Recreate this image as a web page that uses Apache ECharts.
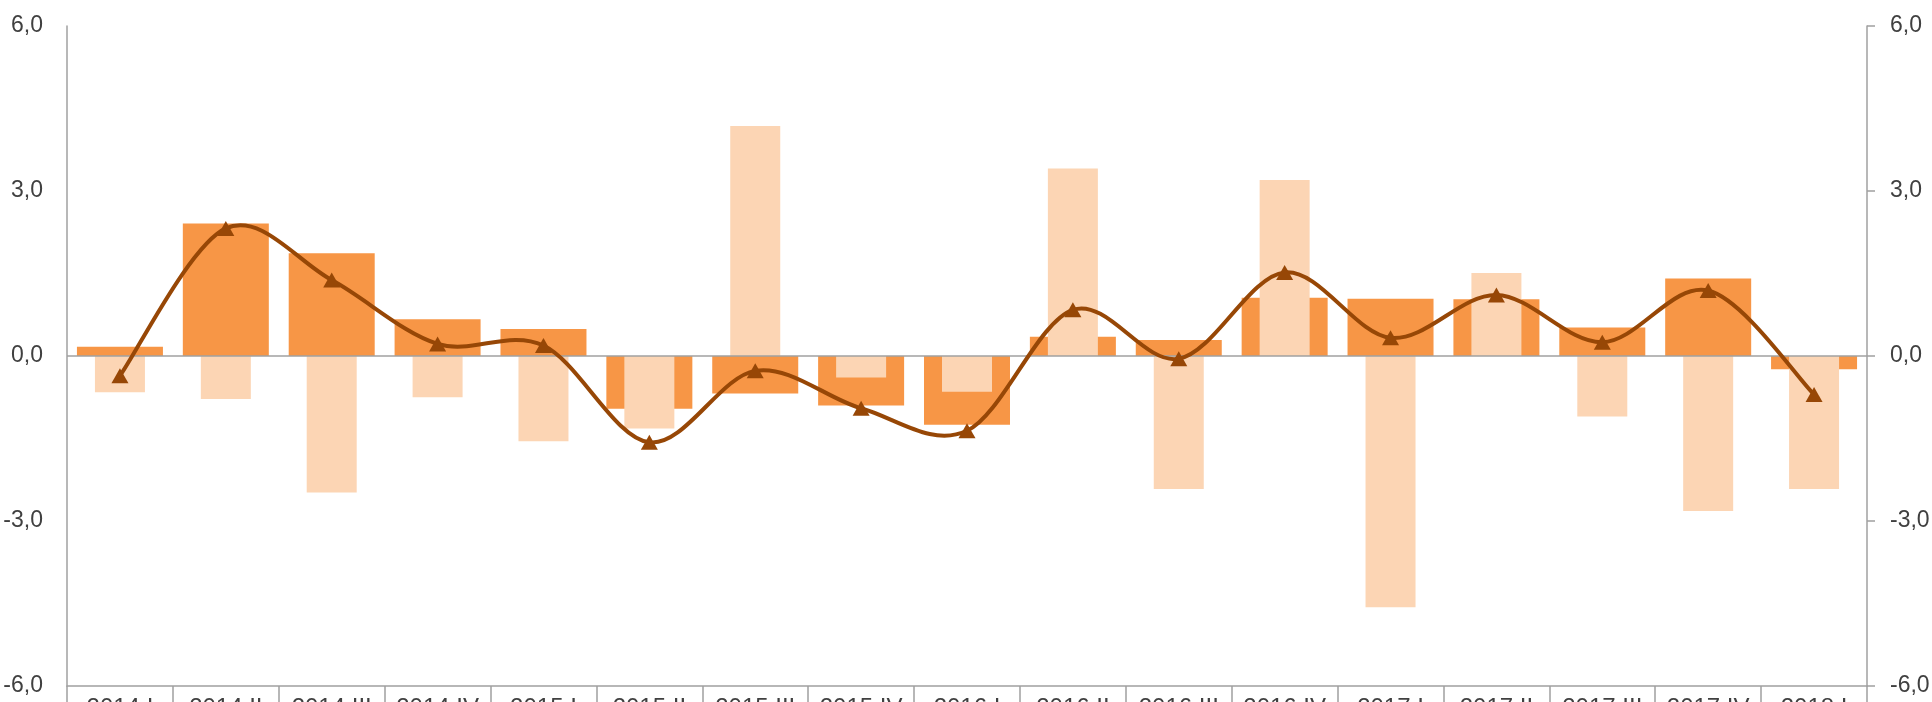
<!DOCTYPE html>
<html>
<head>
<meta charset="utf-8">
<script src="https://cdn.jsdelivr.net/npm/echarts@6/dist/echarts.min.js"></script>
<style>
  html, body { margin: 0; padding: 0; background: #ffffff; }
  #chart { width: 1932px; height: 702px; }
</style>
</head>
<body>
<div id="chart"></div>
<script>
const categories = ['2014 I', '2014 II', '2014 III', '2014 IV', '2015 I', '2015 II', '2015 III', '2015 IV',
  '2016 I', '2016 II', '2016 III', '2016 IV', '2017 I', '2017 II', '2017 III', '2017 IV', '2018 I'];
const darkBars = [0.17, 2.41, 1.87, 0.67, 0.49, -0.96, -0.68, -0.90, -1.25, 0.35, 0.29, 1.06, 1.04, 1.03, 0.52, 1.41, -0.24];
const lightBars = [-0.66, -0.78, -2.48, -0.75, -1.55, -1.32, 4.18, -0.39, -0.65, 3.41, -2.42, 3.20, -4.57, 1.51, -1.10, -2.82, -2.42];
const lineValues = [-0.36, 2.32, 1.38, 0.22, 0.19, -1.57, -0.27, -0.95, -1.36, 0.84, -0.05, 1.52, 0.33, 1.11, 0.25, 1.19, -0.70];
const yTicks = [-6, -3, 0, 3, 6];

const FONT = "'Liberation Sans Narrow', 'Arial Narrow', 'Liberation Sans', sans-serif";
const TEXT = '#404040';
const AXIS = '#a0a0a0';
const LINE = '#974706';
const fmt = v => v.toFixed(1).replace('.', ',');

// Catmull-Rom style smoothing (like a spreadsheet smoothed line), drawn through the axis scales
function renderCurve(params, api) {
  const i = params.dataIndexInside;
  const n = params.dataInsideLength;
  if (i >= n - 1) return null;
  const pt = j => {
    const k = Math.max(0, Math.min(n - 1, j));
    return api.coord([api.value(0, k), api.value(1, k)]);
  };
  const p0 = pt(i - 1), p1 = pt(i), p2 = pt(i + 1), p3 = pt(i + 2);
  const t = 1 / 6;
  return {
    type: 'bezierCurve',
    shape: {
      x1: p1[0], y1: p1[1],
      x2: p2[0], y2: p2[1],
      cpx1: p1[0] + (p2[0] - p0[0]) * t,
      cpy1: p1[1] + (p2[1] - p0[1]) * t,
      cpx2: p2[0] - (p3[0] - p1[0]) * t,
      cpy2: p2[1] - (p3[1] - p1[1]) * t
    },
    style: { stroke: LINE, lineWidth: 4, fill: null, lineCap: 'round' }
  };
}

const chart = echarts.init(document.getElementById('chart'), null, { renderer: 'canvas' });
chart.setOption({
  animation: false,
  backgroundColor: '#ffffff',
  grid: { left: 67, right: 65, top: 26, bottom: 16, containLabel: false, outerBoundsMode: 'none' },
  xAxis: [
    {
      type: 'category',
      data: categories,
      position: 'bottom',
      boundaryGap: true,
      axisLine: { show: true, onZero: false, lineStyle: { color: AXIS, width: 1.5 } },
      axisTick: { show: true, interval: 0, length: 30, lineStyle: { color: AXIS, width: 1.5 } },
      axisLabel: { interval: 0, margin: 10, fontSize: 24, fontFamily: FONT, color: TEXT },
      splitLine: { show: false }
    },
    {
      type: 'category',
      data: categories,
      show: false,
      boundaryGap: true
    }
  ],
  yAxis: [
    {
      type: 'value',
      position: 'left',
      min: yTicks[0], max: yTicks[yTicks.length - 1], interval: 3,
      axisLine: { show: true, lineStyle: { color: AXIS, width: 1.5 } },
      axisTick: { show: false },
      splitLine: { show: false },
      axisLabel: { margin: 24, fontSize: 23, fontFamily: FONT, color: TEXT, formatter: fmt }
    },
    {
      type: 'value',
      position: 'right',
      min: yTicks[0], max: yTicks[yTicks.length - 1], interval: 3,
      axisLine: { show: true, lineStyle: { color: AXIS, width: 1.5 } },
      axisTick: { show: true, length: 8, inside: false, lineStyle: { color: AXIS, width: 1.5 } },
      splitLine: { show: false },
      axisLabel: { margin: 23, fontSize: 23, fontFamily: FONT, color: TEXT, formatter: fmt }
    }
  ],
  series: [
    {
      name: 'dark',
      type: 'bar',
      xAxisIndex: 0,
      yAxisIndex: 0,
      data: darkBars,
      barWidth: 86,
      itemStyle: { color: '#f79646' },
      markLine: {
        silent: true,
        symbol: ['none', 'none'],
        label: { show: false },
        lineStyle: { color: AXIS, type: 'solid', width: 1.5 },
        data: [{ yAxis: 0 }]
      },
      z: 2
    },
    {
      name: 'light',
      type: 'bar',
      xAxisIndex: 1,
      yAxisIndex: 0,
      data: lightBars,
      barWidth: 50,
      itemStyle: { color: '#fcd5b4' },
      z: 3
    },
    {
      name: 'curve',
      type: 'custom',
      xAxisIndex: 0,
      yAxisIndex: 0,
      data: lineValues.map((v, i) => [i, v]),
      renderItem: renderCurve,
      encode: { x: 0, y: 1 },
      silent: true,
      z: 6
    },
    {
      name: 'line',
      type: 'line',
      xAxisIndex: 0,
      yAxisIndex: 0,
      data: lineValues,
      symbol: 'triangle',
      symbolSize: [17, 15],
      showAllSymbol: true,
      lineStyle: { opacity: 0 },
      itemStyle: { color: LINE },
      z: 7
    }
  ]
});
</script>
</body>
</html>
